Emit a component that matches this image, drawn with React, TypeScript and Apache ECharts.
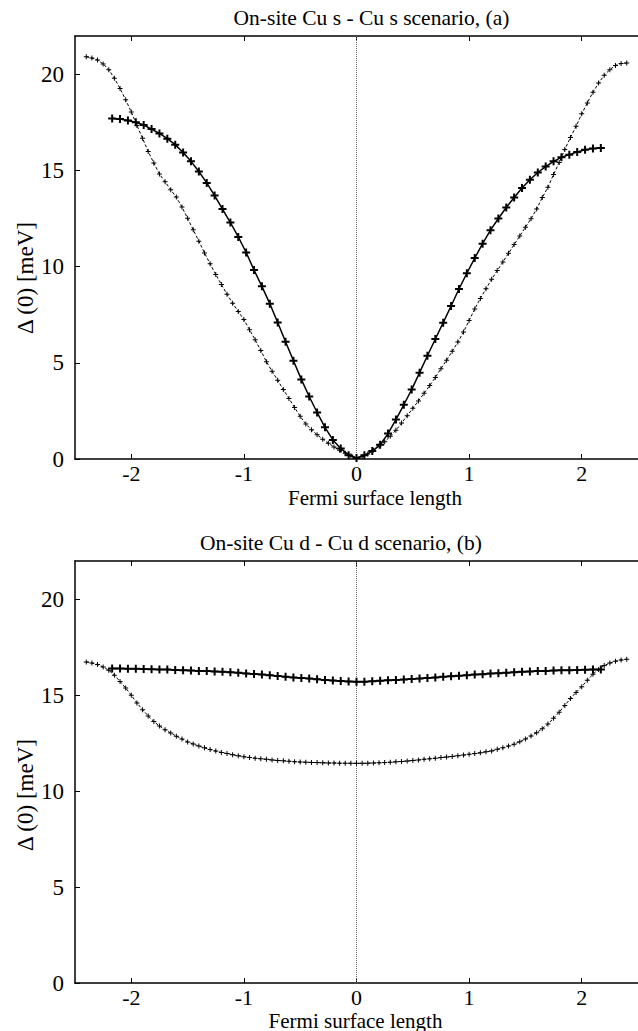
import React, { useEffect, useRef } from "react";
import * as echarts from "echarts";

// x grids (Fermi surface length)
const xThick = [
  -2.17, -2.1, -2.03, -1.96, -1.89, -1.82, -1.75, -1.68, -1.61, -1.54, -1.47, -1.4, -1.33, -1.26, -1.19, -1.12,
  -1.05, -0.98, -0.91, -0.84, -0.77, -0.7, -0.63, -0.56, -0.49, -0.42, -0.35, -0.28, -0.21, -0.14, -0.07, 0,
  0.07, 0.14, 0.21, 0.28, 0.35, 0.42, 0.49, 0.56, 0.63, 0.7, 0.77, 0.84, 0.91, 0.98, 1.05, 1.12, 1.19, 1.26,
  1.33, 1.4, 1.47, 1.54, 1.61, 1.68, 1.75, 1.82, 1.89, 1.96, 2.03, 2.1, 2.17,
];
const xDash = [
  -2.4, -2.35, -2.3, -2.25, -2.2, -2.15, -2.1, -2.05, -2.0, -1.95, -1.9, -1.85, -1.8, -1.75, -1.7, -1.65,
  -1.6, -1.55, -1.5, -1.45, -1.4, -1.35, -1.3, -1.25, -1.2, -1.15, -1.1, -1.05, -1.0, -0.95, -0.9, -0.85,
  -0.8, -0.75, -0.7, -0.65, -0.6, -0.55, -0.5, -0.45, -0.4, -0.35, -0.3, -0.25, -0.2, -0.15, -0.1, -0.05, 0,
  0.05, 0.1, 0.15, 0.2, 0.25, 0.3, 0.35, 0.4, 0.45, 0.5, 0.55, 0.6, 0.65, 0.7, 0.75, 0.8, 0.85, 0.9, 0.95,
  1.0, 1.05, 1.1, 1.15, 1.2, 1.25, 1.3, 1.35, 1.4, 1.45, 1.5, 1.55, 1.6, 1.65, 1.7, 1.75, 1.8, 1.85, 1.9,
  1.95, 2.0, 2.05, 2.1, 2.15, 2.2, 2.25, 2.3, 2.35, 2.4,
];

// Panel (a): on-site Cu s - Cu s
const gapA_solid = [
  17.71, 17.68, 17.61, 17.51, 17.37, 17.16, 16.93, 16.66, 16.35, 15.94, 15.48, 14.95, 14.36, 13.7, 13.0, 12.3,
  11.55, 10.74, 9.83, 8.98, 8.08, 7.1, 6.1, 5.11, 4.14, 3.25, 2.42, 1.65, 0.99, 0.55, 0.2, 0.05,
  0.19, 0.41, 0.74, 1.32, 2.05, 2.82, 3.61, 4.49, 5.37, 6.24, 7.09, 7.96, 8.84, 9.66, 10.45, 11.2, 11.9, 12.51,
  13.08, 13.6, 14.09, 14.52, 14.9, 15.21, 15.48, 15.69, 15.83, 15.97, 16.08, 16.15, 16.18,
];
const gapA_dashed = [
  20.92, 20.85, 20.75, 20.55, 20.25, 19.8, 19.27, 18.68, 18.05, 17.35, 16.68, 15.99, 15.4, 14.82, 14.42, 14.0,
  13.62, 13.1, 12.52, 11.92, 11.33, 10.72, 10.15, 9.6, 9.08, 8.57, 8.1, 7.67, 7.25, 6.72, 6.2, 5.64,
  5.06, 4.57, 4.09, 3.62, 3.15, 2.68, 2.22, 1.82, 1.52, 1.26, 1.03, 0.82, 0.63, 0.45, 0.3, 0.17, 0.08,
  0.12, 0.26, 0.45, 0.67, 0.9, 1.18, 1.5, 1.87, 2.25, 2.64, 3.02, 3.42, 3.82, 4.24, 4.7, 5.14, 5.6, 6.08, 6.6,
  7.2, 7.8, 8.35, 8.85, 9.35, 9.8, 10.25, 10.7, 11.15, 11.6, 12.05, 12.5, 13.0, 13.6, 14.13, 14.8, 15.42, 16.1, 16.72,
  17.3, 17.95, 18.52, 19.08, 19.55, 19.96, 20.25, 20.47, 20.57, 20.6,
];

// Panel (b): on-site Cu d - Cu d
const gapB_solid = [
  16.4, 16.39, 16.38, 16.38, 16.37, 16.36, 16.35, 16.34, 16.32, 16.31, 16.29, 16.27, 16.26, 16.24, 16.22, 16.2,
  16.17, 16.14, 16.11, 16.08, 16.04, 16.01, 15.97, 15.93, 15.9, 15.87, 15.83, 15.8, 15.77, 15.74, 15.72, 15.7,
  15.71, 15.73, 15.76, 15.78, 15.8, 15.82, 15.85, 15.87, 15.9, 15.93, 15.96, 15.99, 16.02, 16.05, 16.08, 16.1, 16.13, 16.15,
  16.17, 16.2, 16.22, 16.24, 16.26, 16.27, 16.29, 16.3, 16.31, 16.32, 16.33, 16.34, 16.35,
];
const gapB_dashed = [
  16.74, 16.68, 16.6, 16.48, 16.3, 16.05, 15.72, 15.38, 15.0, 14.6, 14.25, 13.92, 13.63, 13.4, 13.2, 13.03,
  12.87, 12.72, 12.57, 12.46, 12.35, 12.26, 12.17, 12.09, 12.02, 11.96, 11.9, 11.85, 11.8, 11.76, 11.72, 11.69,
  11.66, 11.63, 11.6, 11.58, 11.56, 11.54, 11.52, 11.51, 11.5, 11.49, 11.48, 11.47, 11.47, 11.46, 11.46, 11.45, 11.45,
  11.45, 11.46, 11.47, 11.48, 11.49, 11.51, 11.53, 11.55, 11.57, 11.6, 11.63, 11.66, 11.69, 11.72, 11.75, 11.78, 11.81, 11.85, 11.88,
  11.92, 11.96, 12.0, 12.05, 12.1, 12.18, 12.26, 12.35, 12.45, 12.58, 12.72, 12.88, 13.05, 13.26, 13.5, 13.8, 14.12, 14.47, 14.83,
  15.15, 15.45, 15.78, 16.1, 16.35, 16.55, 16.68, 16.78, 16.84, 16.88,
];

const xTicks = [-2, -1, 0, 1, 2];
const yTicks = [0, 5, 10, 15, 20];
const titles = ["On-site Cu s - Cu s scenario, (a)", "On-site Cu d - Cu d scenario, (b)"];
const xName = "Fermi surface length";
const yName = "\u0394 (0) [meV]";

const FONT = "Liberation Serif";
const BOLD_PLUS = "path://M3,0H5V3H8V5H5V8H3V5H0V3H3Z";
const THIN_PLUS = "path://M2,0H3V2H5V3H3V5H2V3H0V2H2Z";

function App() {
  const ref = useRef<HTMLDivElement>(null);
  useEffect(() => {
    if (!ref.current) return;
    const chart = echarts.init(ref.current, null, { renderer: "svg" });

    const xAxisBase = (grid: number, pos: "top" | "bottom") => ({
      gridIndex: grid,
      type: "value",
      position: pos,
      min: -2.5,
      max: 2.5,
      axisLine: { show: true, onZero: false, lineStyle: { color: "#000", width: 1.5 } },
      axisTick: { show: true, inside: true, length: 5, customValues: xTicks, lineStyle: { color: "#000", width: 1 } },
      axisLabel: {
        show: pos === "bottom",
        customValues: xTicks,
        fontSize: 22,
        fontFamily: FONT,
        color: "#000",
        margin: 3,
      },
      splitLine: { show: false },
    });
    const yAxisBase = (grid: number) => ({
      gridIndex: grid,
      type: "value",
      min: 0,
      max: 22,
      axisLine: { show: true, onZero: false, lineStyle: { color: "#000", width: 1.5 } },
      axisTick: { show: true, inside: true, length: 5, customValues: yTicks, lineStyle: { color: "#000", width: 1 } },
      axisLabel: { customValues: yTicks, fontSize: 23, fontFamily: FONT, color: "#000", margin: 11 },
      splitLine: { show: false },
    });

    const solid = (xIdx: number, yIdx: number, ys: number[]) => ({
      type: "line",
      xAxisIndex: xIdx,
      yAxisIndex: yIdx,
      data: xThick.map((x, i) => [x, ys[i]]),
      symbol: BOLD_PLUS,
      symbolSize: 8,
      showAllSymbol: true,
      itemStyle: { color: "#000" },
      lineStyle: { color: "#000", width: 1.5 },
      z: 3,
    });
    const dashed = (xIdx: number, yIdx: number, ys: number[]) => ({
      type: "line",
      xAxisIndex: xIdx,
      yAxisIndex: yIdx,
      data: xDash.map((x, i) => [x, ys[i]]),
      symbol: THIN_PLUS,
      symbolSize: 5,
      showAllSymbol: true,
      itemStyle: { color: "#000" },
      lineStyle: { color: "#000", width: 1, type: [3, 2] },
      z: 2,
      markLine: {
        silent: true,
        symbol: ["none", "none"],
        label: { show: false },
        lineStyle: { type: "dotted", color: "#666", width: 1 },
        data: [{ xAxis: 0 }],
        z: 1,
      },
    });

    const text = (t: string, x: number, y: number, size: number, rot?: number) => {
      const el: any = {
        type: "text",
        x,
        y,
        style: {
          text: t,
          fontSize: size,
          fontFamily: FONT,
          fill: "#000",
          align: "center",
          verticalAlign: "middle",
        },
      };
      if (rot) el.rotation = rot;
      return el;
    };

    chart.setOption({
      animation: false,
      backgroundColor: "#fff",
      textStyle: { fontFamily: FONT },
      grid: [
        { left: 75, top: 36, width: 571.5, height: 423 },
        { left: 75, top: 561, width: 571.5, height: 422 },
      ],
      xAxis: [xAxisBase(0, "bottom"), xAxisBase(0, "top"), xAxisBase(1, "bottom"), xAxisBase(1, "top")],
      yAxis: [yAxisBase(0), yAxisBase(1)],
      series: [
        dashed(0, 0, gapA_dashed),
        solid(0, 0, gapA_solid),
        dashed(2, 1, gapB_dashed),
        solid(2, 1, gapB_solid),
      ],
      graphic: [
        text(titles[0], 371.5, 18, 21.5),
        text(titles[1], 341, 543, 21.5),
        text(xName, 375, 497.5, 21),
        text(xName, 355.5, 1020.5, 21),
        text(yName, 25, 278, 23, Math.PI / 2),
        text(yName, 25, 795, 23, Math.PI / 2),
      ],
    });
    return () => chart.dispose();
  }, []);
  return (
    <div
      ref={ref}
      style={{ position: "absolute", left: 0, top: 0, width: 638, height: 1031 }}
    />
  );
}

export default App;
